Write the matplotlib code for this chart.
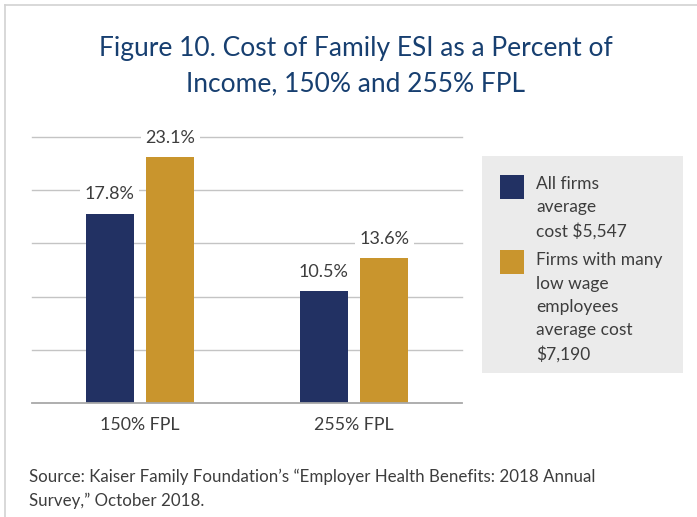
import matplotlib
matplotlib.use("Agg")
import matplotlib.pyplot as plt
from matplotlib.patches import Rectangle
from matplotlib.lines import Line2D
import numpy as np

categories = ["150% FPL", "255% FPL"]
series_names = ["All firms\naverage\ncost $5,547",
                "Firms with many\nlow wage\nemployees\naverage cost\n$7,190"]
all_firms = [17.8, 10.5]
low_wage_firms = [23.1, 13.6]
yticks = [5, 10, 15, 20, 25]

title = "Figure 10. Cost of Family ESI as a Percent of\nIncome, 150% and 255% FPL"
source = "Source: Kaiser Family Foundation\u2019s \u201cEmployer Health Benefits: 2018 Annual\nSurvey,\u201d October 2018."

BLUE = "#223163"
GOLD = "#c9952d"
TITLE_C = "#173f70"
TEXT_C = "#3d3d3d"
FONT = "Lato"

W, H = 697, 517
fig = plt.figure(figsize=(W / 100, H / 100), dpi=100)
fig.patch.set_facecolor("white")

def fx(px):
    return px / W

def fy(py):
    return 1 - py / H

# frame lines
fig.add_artist(Line2D([fx(5), fx(697)], [fy(5), fy(5)], color="#d2d2d2", lw=1.2))
fig.add_artist(Line2D([fx(5), fx(5)], [fy(5), fy(517)], color="#d2d2d2", lw=1.2))

# title
fig.text(fx(356), fy(66.5), title, ha="center", va="center", color=TITLE_C,
         fontsize=19, family=FONT, linespacing=1.53)

# axes
ax = fig.add_axes([fx(32), fy(403), fx(462) - fx(32), fy(137) - fy(403)])
ax.set_xlim(-0.505, 1.505)
ax.set_ylim(0, 25)
x = np.arange(len(categories))
bw = 0.224
off = 0.142
b1 = ax.bar(x - off, all_firms, bw, color=BLUE, zorder=3)
b2 = ax.bar(x + off, low_wage_firms, bw, color=GOLD, zorder=3)

for yv in yticks:
    ax.axhline(yv, color="#c4c4c4", lw=1.0, zorder=1, clip_on=False)
ax.axhline(0, color="#a8a8a8", lw=1.3, zorder=4, clip_on=False)

for bars, vals in ((b1, all_firms), (b2, low_wage_firms)):
    for rect, v in zip(bars, vals):
        ax.annotate(f"{v:.1f}%", (rect.get_x() + rect.get_width() / 2, v),
                    xytext=(0, 8), textcoords="offset points", ha="center",
                    va="bottom", fontsize=13, family=FONT, color=TEXT_C,
                    bbox=dict(boxstyle="square,pad=0.25", fc="white", ec="none"),
                    zorder=5)

ax.set_xticks(x)
ax.set_xticklabels(categories, fontsize=12.8, family=FONT, color=TEXT_C)
ax.tick_params(axis="x", length=0, pad=10)
ax.set_yticks([])
for s in ax.spines.values():
    s.set_visible(False)
ax.patch.set_alpha(0)

# legend box
fig.add_artist(Rectangle((fx(482), fy(373)), fx(683) - fx(482), fy(156) - fy(373),
                         transform=fig.transFigure, fc="#ebebeb", ec="none"))
sq = 24
for name, col, top, ty in ((series_names[0], BLUE, 175, 185),
                           (series_names[1], GOLD, 250, 262)):
    fig.add_artist(Rectangle((fx(500), fy(top + sq)), fx(sq), sq / H,
                             transform=fig.transFigure, fc=col, ec="none"))
    fig.text(fx(536), fy(ty - 9.5), name, ha="left", va="top", fontsize=12.5,
             family=FONT, color=TEXT_C, linespacing=1.55)

# source
fig.text(fx(29), fy(489), source, ha="left", va="center", fontsize=12.2,
         family=FONT, color=TEXT_C, linespacing=1.6)

fig.savefig("out.png", dpi=100)
